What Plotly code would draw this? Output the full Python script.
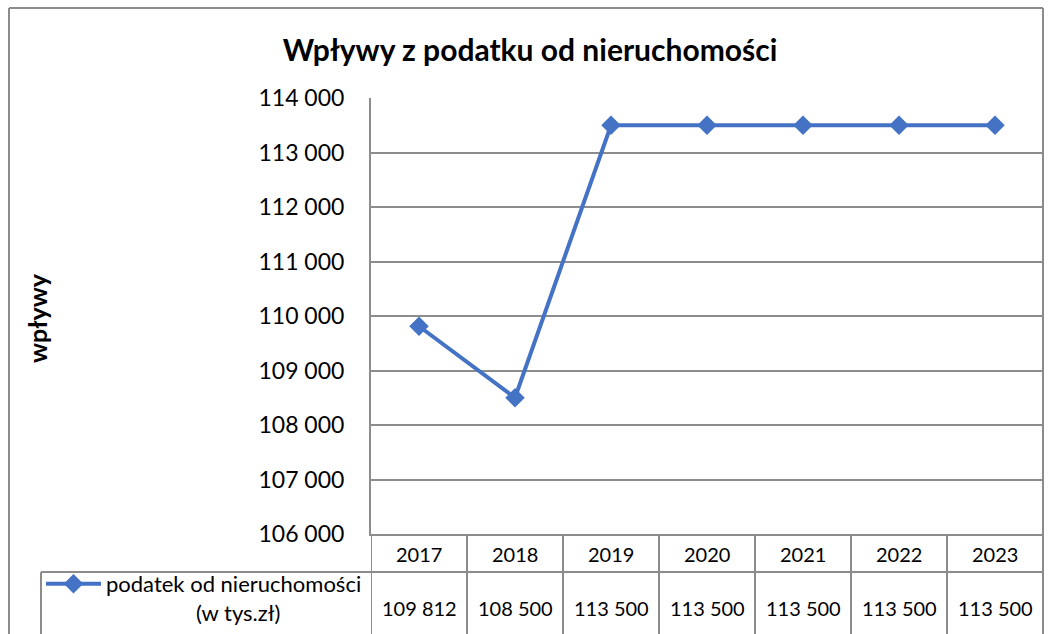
import plotly.graph_objects as go

# ---- data ----
categories = ["2017", "2018", "2019", "2020", "2021", "2022", "2023"]
values = [109812, 108500, 113500, 113500, 113500, 113500, 113500]
series_lines = ["podatek od nieruchomości", "(w tys.zł)"]
title_text = "Wpływy z podatku od nieruchomości"
y_title = "wpływy"
y_ticks = [106000, 107000, 108000, 109000, 110000, 111000, 112000, 113000, 114000]

W, H = 1050, 634
FONT = "Lato"
GRID = "#8c8c8c"
BLUE = "#4472C4"


def px(xp):
    return xp / W


def py(yp):
    return (H - yp) / H


def fmt(v):
    return f"{v:,}".replace(",", " ")


# legend label: second line roughly centred under the first
pad = "\u00a0" * 16
series_name = series_lines[0] + "<br>" + pad + series_lines[1]

fig = go.Figure()
fig.add_trace(go.Scatter(
    x=list(range(len(categories))), y=values, mode="lines+markers", name=series_name,
    line=dict(color=BLUE, width=4),
    marker=dict(symbol="diamond", size=15, color=BLUE),
))

annotations = []
# category row
for i, c in enumerate(categories):
    annotations.append(dict(x=i, xref="x", y=py(554), yref="paper", text=c,
                            showarrow=False, font=dict(family=FONT, size=20, color="#000"),
                            xanchor="center", yanchor="middle"))
# value row
for i, v in enumerate(values):
    annotations.append(dict(x=i, xref="x", y=py(608), yref="paper", text=fmt(v),
                            showarrow=False, font=dict(family=FONT, size=20, color="#000"),
                            xanchor="center", yanchor="middle"))
# y axis title
annotations.append(dict(x=px(37), xref="paper", y=py(318), yref="paper", text=f"<b>{y_title}</b>",
                        textangle=-90, showarrow=False,
                        font=dict(family=FONT, size=25, color="#000"),
                        xanchor="center", yanchor="middle"))

border = dict(color=GRID, width=2)
shapes = []
# outer chart border (top, left, right; bottom is cut off)
shapes.append(dict(type="line", xref="paper", yref="paper", x0=px(9), x1=px(1043),
                   y0=py(8), y1=py(8), line=border))
shapes.append(dict(type="line", xref="paper", yref="paper", x0=px(9), x1=px(9),
                   y0=0, y1=py(8), line=border))
shapes.append(dict(type="line", xref="paper", yref="paper", x0=px(1043), x1=px(1043),
                   y0=0, y1=py(8), line=border))
# table vertical lines
n = len(categories)
for i in range(n + 1):
    shapes.append(dict(type="line", xref="x", yref="paper", x0=i - 0.5, x1=i - 0.5,
                       y0=py(534), y1=0, line=border))
# table horizontal line between header and values
shapes.append(dict(type="line", xref="paper", yref="paper", x0=px(41), x1=px(1043),
                   y0=py(572), y1=py(572), line=border))
# legend cell left border
shapes.append(dict(type="line", xref="paper", yref="paper", x0=px(41), x1=px(41),
                   y0=py(572), y1=0, line=border))

fig.update_layout(
    width=W, height=H,
    margin=dict(l=0, r=0, t=0, b=0),
    paper_bgcolor="white", plot_bgcolor="white",
    separators=", ",
    title=dict(text=f"<b>{title_text}</b>", x=px(530), y=py(50), xanchor="center", yanchor="middle",
               font=dict(family=FONT, size=30, color="#000")),
    xaxis=dict(domain=[px(371), px(1043)], range=[-0.5, n - 0.5],
               showticklabels=False, showgrid=False, showline=True, linecolor=GRID, linewidth=2,
               zeroline=False, fixedrange=True, automargin=False),
    yaxis=dict(domain=[py(534), py(98)], range=[106000, 114000], tickvals=y_ticks,
               tickformat=",d", showgrid=True, gridcolor=GRID, gridwidth=2,
               showline=True, linecolor=GRID, linewidth=2, zeroline=False,
               tickfont=dict(family=FONT, size=23, color="#000"), ticklabelstandoff=20,
               automargin=False, fixedrange=True),
    showlegend=True,
    legend=dict(x=px(41), y=0, xanchor="left", yanchor="bottom", valign="top",
                itemwidth=55,
                font=dict(family=FONT, size=22, color="#000"), bgcolor="rgba(0,0,0,0)"),
    annotations=annotations,
    shapes=shapes,
)

fig.write_html("out.html", config={"displayModeBar": False},
               post_script="document.body.style.margin='0px';")
